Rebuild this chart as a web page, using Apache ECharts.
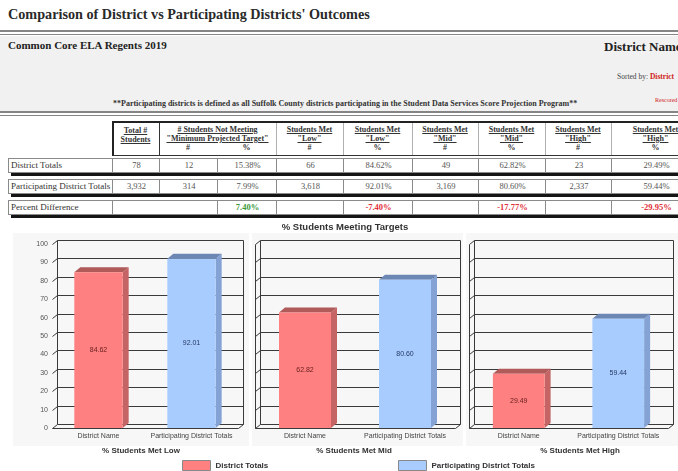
<!DOCTYPE html>
<html>
<head>
<meta charset="utf-8">
<script src="https://cdn.jsdelivr.net/npm/echarts@6/dist/echarts.min.js"></script>
<style>
  html, body { margin: 0; padding: 0; }
  body { width: 678px; height: 471px; overflow: hidden; position: relative; background: #fff;
         font-family: "Liberation Serif", "Times New Roman", serif; color: #222; }
  .abs { position: absolute; white-space: nowrap; }
  .rule { left: 0; width: 678px; height: 2px; border-top: 2px solid #858585; border-bottom: 1px solid #858585; }
  .band { left: 0; top: 36px; width: 678px; height: 76px; background: #f1f1f1; }
  .hd { position: absolute; text-align: center; font-weight: bold; font-size: 8px; line-height: 9px; color: #333; }
  .hd u { text-decoration: underline; }
  .row { position: absolute; left: 8px; width: 700px; height: 13px; border: 1px solid #8a8a8a; background: #fff;
         box-shadow: 3px 3px 0 #151515; }
  .cell { position: absolute; top: 0; height: 13px; line-height: 13px; font-size: 8.5px; text-align: center; color: #555; }
  .sep { position: absolute; top: 0; width: 1px; height: 13px; background: #8a8a8a; }
</style>
</head>
<body>
<div class="abs" id="title" style="left:8px;top:6px;font-weight:bold;font-size:14.2px;color:#2a2a2a;">Comparison of District vs Participating Districts' Outcomes</div>
<div class="abs rule" style="top:30px"></div>
<div class="abs band"></div>
<div class="abs rule" style="top:111px"></div>
<div class="abs" style="left:8px;top:39px;font-weight:bold;font-size:11px;">Common Core ELA Regents 2019</div>
<div class="abs" style="left:604px;top:39px;font-weight:bold;font-size:13px;">District Name</div>
<div class="abs" style="left:617px;top:72px;font-size:7.5px;color:#444;">Sorted by: <span style="color:#d02020;font-weight:bold;">District</span></div>
<div class="abs" style="left:655px;top:97px;font-size:6px;color:#d02020;">Rescored</div>
<div class="abs" style="left:113px;top:99px;font-size:8px;font-weight:bold;color:#333;">**Participating districts is defined as all Suffolk County districts participating in the Student Data Services Score Projection Program**</div>
<div id="report"></div>
<div id="chart" style="position:absolute;left:0;top:218px;width:678px;height:253px;"></div>

<script>
// ---- table data ----
const rowLabels = ['District Totals', 'Participating District Totals', 'Percent Difference'];
const totalStudents = ['78', '3,932', ''];
const notMetN = ['12', '314', ''];
const notMetPct = ['15.38%', '7.99%', '7.40%'];
const lowN = ['66', '3,618', ''];
const lowPct = ['84.62%', '92.01%', '-7.40%'];
const midN = ['49', '3,169', ''];
const midPct = ['62.82%', '80.60%', '-17.77%'];
const highN = ['23', '2,337', ''];
const highPct = ['29.49%', '59.44%', '-29.95%'];

// ---- chart data ----
const categories = ['District Name', 'Participating District Totals'];
const panelTitles = ['% Students Met Low', '% Students Met Mid', '% Students Met High'];
const districtPct = [84.62, 62.82, 29.49];
const participatingPct = [92.01, 80.60, 59.44];
const yTicks = [0, 10, 20, 30, 40, 50, 60, 70, 80, 90, 100];

// column edges of the report table
const colEdges = [8, 112, 159, 217, 276, 343, 412, 478, 545, 611, 700];

const report = document.getElementById('report');

// header box
const hbox = document.createElement('div');
hbox.style.cssText = 'position:absolute;left:112px;top:121px;width:600px;height:32px;border:1px solid #333;border-left:2px solid #222;border-top:2px solid #222;background:#fff;';
report.appendChild(hbox);
const headerCols = [
  { from: 1, to: 2, lines: ['Total #', 'Students'] },
  { from: 2, to: 4, lines: ['# Students Not Meeting', '"Minimum Projected Target"'] },
  { from: 4, to: 5, lines: ['Students Met', '"Low"', '#'] },
  { from: 5, to: 6, lines: ['Students Met', '"Low"', '%'] },
  { from: 6, to: 7, lines: ['Students Met', '"Mid"', '#'] },
  { from: 7, to: 8, lines: ['Students Met', '"Mid"', '%'] },
  { from: 8, to: 9, lines: ['Students Met', '"High"', '#'] },
  { from: 9, to: 10, lines: ['Students Met', '"High"', '%'] }
];
headerCols.forEach(function (h) {
  const d = document.createElement('div');
  d.className = 'hd';
  d.style.left = colEdges[h.from] + 'px';
  d.style.width = (colEdges[h.to] - colEdges[h.from]) + 'px';
  d.style.top = (h.from === 1 ? 126 : 125) + 'px';
  d.innerHTML = h.lines.map(function (t, k) { return k < 2 ? '<u>' + t + '</u>' : t; }).join('<br>');
  report.appendChild(d);
  if (h.from > 1) {
    const s = document.createElement('div');
    s.style.cssText = 'position:absolute;top:123px;width:1px;height:32px;background:' + (h.from === 2 ? '#333' : '#b0b0b0') + ';left:' + colEdges[h.from] + 'px;';
    report.appendChild(s);
  }
});
['#', '%'].forEach(function (t, k) {
  const d = document.createElement('div');
  d.className = 'hd';
  d.style.left = colEdges[2 + k] + 'px';
  d.style.width = (colEdges[3 + k] - colEdges[2 + k]) + 'px';
  d.style.top = '143px';
  d.textContent = t;
  report.appendChild(d);
});

// data rows
const rowTops = [158, 179, 200];
rowLabels.forEach(function (label, r) {
  const row = document.createElement('div');
  row.className = 'row';
  row.style.top = rowTops[r] + 'px';
  const vals = [totalStudents[r], notMetN[r], notMetPct[r], lowN[r], lowPct[r], midN[r], midPct[r], highN[r], highPct[r]];
  let html = '<div class="cell" style="left:2px;text-align:left;color:#333;font-size:9px;">' + label + '</div>';
  for (let c = 1; c < colEdges.length - 1; c++) {
    const l = colEdges[c] - 8, w = colEdges[c + 1] - colEdges[c];
    const v = vals[c - 1];
    if (!(r === 2 && c === 2)) html += '<div class="sep" style="left:' + (l - 1) + 'px"></div>';
    let style = '';
    if (r === 2 && v) style = 'font-weight:bold;color:' + (v.charAt(0) === '-' ? '#e0303a' : '#3c9a3c') + ';';
    html += '<div class="cell" style="left:' + l + 'px;width:' + w + 'px;' + style + '">' + v + '</div>';
  }
  row.innerHTML = html;
  report.appendChild(row);
});

// ---- chart ----
const RED = '#ff8080', RED_TOP = '#b05a5a', RED_SIDE = '#c46464';
const BLUE = '#a9ccff', BLUE_TOP = '#6c87b3', BLUE_SIDE = '#84a3d4';
const FX = 5, FY = 4;   // depth of the frame
const BX = 6, BY = 5;   // depth of the bars

const grids = [
  { left: 52, top: 26, width: 186, height: 184 },
  { left: 255, top: 26, width: 200, height: 184 },
  { left: 469, top: 26, width: 199, height: 184 }
];
const panelBg = [[13, 249], [252, 463], [466, 678]];
const subCenters = [141, 354, 580];

function frameItem(showFront) {
  return function (params, api) {
    const cs = params.coordSys;
    const v = api.value(1);
    const y = Math.round(api.coord([0, v])[1]) + 0.5;
    const x0 = Math.round(cs.x) + 0.5, x1 = Math.round(cs.x + cs.width) + 0.5;
    const top = Math.round(cs.y) + 0.5, bot = Math.round(cs.y + cs.height) + 0.5;
    const ln = function (a, b, c, d) {
      return { type: 'line', shape: { x1: a, y1: b, x2: c, y2: d }, style: { stroke: '#3a3a3a', lineWidth: 1 } };
    };
    const kids = [ln(x0 + FX, y - FY, x1 + FX, y - FY), ln(x0, y, x0 + FX, y - FY)];
    if (v === 0) {
      kids.push(ln(x0, bot, x1, bot));
      kids.push(ln(x1, bot, x1 + FX, bot - FY));
      kids.push(ln(x0 + FX, top - FY, x0 + FX, bot - FY));
      kids.push(ln(x1 + FX, top - FY, x1 + FX, bot - FY));
      if (showFront) kids.push(ln(x0, top, x0, bot));
    }
    return { type: 'group', children: kids };
  };
}

function barItem(front, topC, side, labelColor) {
  return function (params, api) {
    const cat = api.value(0), v = api.value(1);
    const p = api.coord([cat, v]), b = api.coord([cat, 0]);
    const w = api.size([1, 0])[0] * 0.52;
    const l = p[0] - w / 2, r = p[0] + w / 2, t = p[1], bt = b[1];
    return {
      type: 'group',
      children: [
        { type: 'polygon', shape: { points: [[r, t], [r + BX, t - BY], [r + BX, bt - BY], [r, bt]] }, style: { fill: side } },
        { type: 'polygon', shape: { points: [[l, t], [l + BX, t - BY], [r + BX, t - BY], [r, t]] }, style: { fill: topC } },
        { type: 'rect', shape: { x: l, y: t, width: w, height: bt - t }, style: { fill: front } },
        { type: 'text', x: p[0], y: (t + bt) / 2,
          style: { text: v.toFixed(2), fill: labelColor, font: '7px "Liberation Sans"', textAlign: 'center', textVerticalAlign: 'middle' } }
      ]
    };
  };
}

const series = [];
grids.forEach(function (g, i) {
  series.push({
    type: 'custom', xAxisIndex: i, yAxisIndex: i, silent: true, clip: false, z: 1,
    data: yTicks.map(function (v) { return [0, v]; }),
    renderItem: frameItem(i > 0)
  });
  series.push({
    type: 'custom', name: 'District Totals', xAxisIndex: i, yAxisIndex: i, clip: false, z: 3,
    itemStyle: { color: RED },
    data: [[0, districtPct[i]]],
    renderItem: barItem(RED, RED_TOP, RED_SIDE, '#6a2020')
  });
  series.push({
    type: 'custom', name: 'Participating District Totals', xAxisIndex: i, yAxisIndex: i, clip: false, z: 3,
    itemStyle: { color: BLUE },
    data: [[1, participatingPct[i]]],
    renderItem: barItem(BLUE, BLUE_TOP, BLUE_SIDE, '#243a66')
  });
});

const graphics = [];
panelBg.forEach(function (p) {
  graphics.push({ type: 'rect', z: -10, shape: { x: p[0], y: 15, width: p[1] - p[0], height: 213 }, style: { fill: '#f7f7f7' } });
});
graphics.push({ type: 'text', x: 345, y: 9, style: { text: '% Students Meeting Targets', fill: '#333', font: 'bold 9.5px "Liberation Sans"', textAlign: 'center', textVerticalAlign: 'middle' } });
panelTitles.forEach(function (t, i) {
  graphics.push({ type: 'text', x: subCenters[i], y: 233, style: { text: t, fill: '#333', font: 'bold 8px "Liberation Sans"', textAlign: 'center', textVerticalAlign: 'middle' } });
});

const legendBase = {
  top: 242, padding: 0, icon: 'rect', itemWidth: 28, itemHeight: 10, itemGap: 6, selectedMode: false,
  itemStyle: { borderColor: '#888', borderWidth: 1 },
  textStyle: { fontSize: 8, fontWeight: 'bold', color: '#333', fontFamily: 'Liberation Sans' }
};

const chart = echarts.init(document.getElementById('chart'), null, { renderer: 'canvas' });
chart.setOption({
  animation: false,
  textStyle: { fontFamily: 'Liberation Sans' },
  grid: grids,
  xAxis: grids.map(function (g, i) {
    return {
      type: 'category', gridIndex: i, data: categories,
      axisLine: { show: false }, axisTick: { show: false }, splitLine: { show: false },
      axisLabel: { interval: 0, fontSize: 7, color: '#444', margin: 5 }
    };
  }),
  yAxis: grids.map(function (g, i) {
    return {
      type: 'value', gridIndex: i, min: 0, max: 100, interval: 10,
      axisLine: { show: false }, axisTick: { show: false }, splitLine: { show: false },
      axisLabel: { show: i === 0, fontSize: 7, color: '#555', margin: 4 }
    };
  }),
  legend: [
    Object.assign({ left: 182, data: ['District Totals'] }, legendBase),
    Object.assign({ left: 398, data: ['Participating District Totals'] }, legendBase)
  ],
  graphic: { elements: graphics },
  series: series
});
</script>
</body>
</html>
